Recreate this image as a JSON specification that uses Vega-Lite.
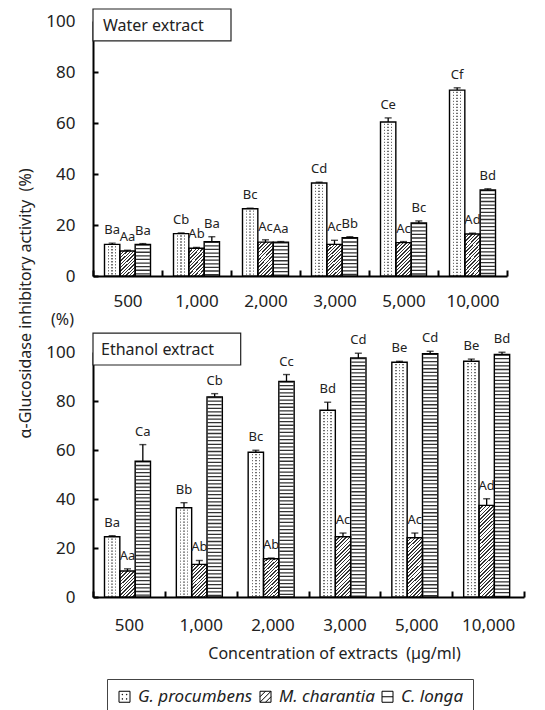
{
 "$schema": "https://vega.github.io/schema/vega-lite/v6.json",
 "padding": {"left": 17, "top": 8, "right": 5, "bottom": 5},
 "bounds": "flush",
 "spacing": 76,
 "datasets": {
  "bars": [
   {"panel":"Water extract","conc":"500","sp":"G. procumbens","v":12.4,"e":12.9,"lab":"Ba"},
   {"panel":"Water extract","conc":"500","sp":"M. charantia","v":9.8,"e":10.1,"lab":"Aa"},
   {"panel":"Water extract","conc":"500","sp":"C. longa","v":12.4,"e":12.7,"lab":"Ba"},
   {"panel":"Water extract","conc":"1,000","sp":"G. procumbens","v":16.6,"e":16.9,"lab":"Cb"},
   {"panel":"Water extract","conc":"1,000","sp":"M. charantia","v":10.9,"e":11.2,"lab":"Ab"},
   {"panel":"Water extract","conc":"1,000","sp":"C. longa","v":13.5,"e":15.4,"lab":"Ba"},
   {"panel":"Water extract","conc":"2,000","sp":"G. procumbens","v":26.4,"e":26.6,"lab":"Bc"},
   {"panel":"Water extract","conc":"2,000","sp":"M. charantia","v":13.3,"e":14.2,"lab":"Ac"},
   {"panel":"Water extract","conc":"2,000","sp":"C. longa","v":13.3,"e":13.5,"lab":"Aa"},
   {"panel":"Water extract","conc":"3,000","sp":"G. procumbens","v":36.5,"e":36.8,"lab":"Cd"},
   {"panel":"Water extract","conc":"3,000","sp":"M. charantia","v":12.4,"e":14.0,"lab":"Ac"},
   {"panel":"Water extract","conc":"3,000","sp":"C. longa","v":15.0,"e":15.4,"lab":"Bb"},
   {"panel":"Water extract","conc":"5,000","sp":"G. procumbens","v":60.4,"e":62.0,"lab":"Ce"},
   {"panel":"Water extract","conc":"5,000","sp":"M. charantia","v":13.1,"e":13.5,"lab":"Ac"},
   {"panel":"Water extract","conc":"5,000","sp":"C. longa","v":20.8,"e":21.6,"lab":"Bc"},
   {"panel":"Water extract","conc":"10,000","sp":"G. procumbens","v":72.9,"e":73.8,"lab":"Cf"},
   {"panel":"Water extract","conc":"10,000","sp":"M. charantia","v":16.5,"e":16.8,"lab":"Ad"},
   {"panel":"Water extract","conc":"10,000","sp":"C. longa","v":33.7,"e":34.2,"lab":"Bd"},
   {"panel":"Ethanol extract","conc":"500","sp":"G. procumbens","v":24.6,"e":25.0,"lab":"Ba"},
   {"panel":"Ethanol extract","conc":"500","sp":"M. charantia","v":10.6,"e":11.5,"lab":"Aa"},
   {"panel":"Ethanol extract","conc":"500","sp":"C. longa","v":55.4,"e":62.2,"lab":"Ca"},
   {"panel":"Ethanol extract","conc":"1,000","sp":"G. procumbens","v":36.4,"e":38.5,"lab":"Bb"},
   {"panel":"Ethanol extract","conc":"1,000","sp":"M. charantia","v":13.3,"e":14.9,"lab":"Ab"},
   {"panel":"Ethanol extract","conc":"1,000","sp":"C. longa","v":81.7,"e":83.0,"lab":"Cb"},
   {"panel":"Ethanol extract","conc":"2,000","sp":"G. procumbens","v":59.1,"e":59.9,"lab":"Bc"},
   {"panel":"Ethanol extract","conc":"2,000","sp":"M. charantia","v":15.6,"e":15.9,"lab":"Ab"},
   {"panel":"Ethanol extract","conc":"2,000","sp":"C. longa","v":88.0,"e":90.8,"lab":"Cc"},
   {"panel":"Ethanol extract","conc":"3,000","sp":"G. procumbens","v":76.2,"e":79.5,"lab":"Bd"},
   {"panel":"Ethanol extract","conc":"3,000","sp":"M. charantia","v":24.6,"e":26.1,"lab":"Ac"},
   {"panel":"Ethanol extract","conc":"3,000","sp":"C. longa","v":97.6,"e":99.5,"lab":"Cd"},
   {"panel":"Ethanol extract","conc":"5,000","sp":"G. procumbens","v":95.8,"e":96.2,"lab":"Be"},
   {"panel":"Ethanol extract","conc":"5,000","sp":"M. charantia","v":24.2,"e":26.1,"lab":"Ac"},
   {"panel":"Ethanol extract","conc":"5,000","sp":"C. longa","v":99.3,"e":100.3,"lab":"Cd"},
   {"panel":"Ethanol extract","conc":"10,000","sp":"G. procumbens","v":96.2,"e":97.1,"lab":"Be"},
   {"panel":"Ethanol extract","conc":"10,000","sp":"M. charantia","v":37.4,"e":40.1,"lab":"Ad"},
   {"panel":"Ethanol extract","conc":"10,000","sp":"C. longa","v":99.0,"e":99.9,"lab":"Bd"}
  ]
 },
 "vconcat": [
  {
   "width": 414, "height": 255,
   "layer": [
    {
     "data": {"name": "bars"},
     "transform": [{"filter": "datum.panel == 'Water extract'"}],
     "encoding": {
      "x": {"field": "conc", "type": "nominal", "sort": ["500","1,000","2,000","3,000","5,000","10,000"],
            "scale": {"domain": ["500","1,000","2,000","3,000","5,000","10,000"], "paddingInner": 0, "paddingOuter": 0},
            "axis": {"title": null, "labelAngle": 0, "tickBand": "extent", "tickSize": -6, "tickWidth": 2, "tickColor": "black", "domainWidth": 2, "domainColor": "black", "labelFontSize": 17, "labelColor": "#222", "labelPadding": 23.5}},
      "xOffset": {"field": "sp", "type": "nominal", "sort": ["G. procumbens","M. charantia","C. longa"],
            "scale": {"domain": ["G. procumbens","M. charantia","C. longa"], "paddingInner": 0, "paddingOuter": 0.75}},
      "y": {"field": "v", "type": "quantitative", "scale": {"domain": [0, 100]},
            "axis": {"title": "α-Glucosidase inhibitory activity \u00a0(%)", "values": [0,20,40,60,80,100], "grid": false, "tickSize": -5, "tickWidth": 2, "tickColor": "black", "domainWidth": 2, "domainColor": "black", "labelFontSize": 17, "labelColor": "#222", "labelPadding": 23, "titleFontSize": 16, "titleFontWeight": "normal", "titleColor": "#222", "titleAngle": -90, "titleX": -68, "titleY": 282, "titleAlign": "center", "titleBaseline": "middle"}}
     },
     "layer": [
      {"mark": {"type": "bar", "strokeWidth": 0},
       "encoding": {"fill": {"condition": [
        {"test": "datum.sp == 'G. procumbens'", "value": {"gradient": "linear", "x1": 0, "y1": 0, "x2": 1, "y2": 0, "stops": [{"offset":0,"color":"white"},{"offset":0.22,"color":"white"},{"offset":0.22,"color":"#707070"},{"offset":0.32,"color":"#707070"},{"offset":0.32,"color":"white"},{"offset":0.45,"color":"white"},{"offset":0.45,"color":"#707070"},{"offset":0.55,"color":"#707070"},{"offset":0.55,"color":"white"},{"offset":0.68,"color":"white"},{"offset":0.68,"color":"#707070"},{"offset":0.78,"color":"#707070"},{"offset":0.78,"color":"white"},{"offset":1,"color":"white"}]}},
        {"test": "datum.sp == 'M. charantia' && datum.v < 11.5", "value": {"gradient": "linear", "x1": 0, "y1": 0, "x2": 0.694, "y2": 1.18, "stops": [
{"offset":0,"color":"#333"},{"offset":0.0333,"color":"#333"},{"offset":0.0333,"color":"#fff"},{"offset":0.0833,"color":"#fff"},
{"offset":0.0833,"color":"#333"},{"offset":0.1167,"color":"#333"},{"offset":0.1167,"color":"#fff"},{"offset":0.1667,"color":"#fff"},
{"offset":0.1667,"color":"#333"},{"offset":0.2,"color":"#333"},{"offset":0.2,"color":"#fff"},{"offset":0.25,"color":"#fff"},
{"offset":0.25,"color":"#333"},{"offset":0.2833,"color":"#333"},{"offset":0.2833,"color":"#fff"},{"offset":0.3333,"color":"#fff"},
{"offset":0.3333,"color":"#333"},{"offset":0.3667,"color":"#333"},{"offset":0.3667,"color":"#fff"},{"offset":0.4167,"color":"#fff"},
{"offset":0.4167,"color":"#333"},{"offset":0.45,"color":"#333"},{"offset":0.45,"color":"#fff"},{"offset":0.5,"color":"#fff"},
{"offset":0.5,"color":"#333"},{"offset":0.5333,"color":"#333"},{"offset":0.5333,"color":"#fff"},{"offset":0.5833,"color":"#fff"},
{"offset":0.5833,"color":"#333"},{"offset":0.6167,"color":"#333"},{"offset":0.6167,"color":"#fff"},{"offset":0.6667,"color":"#fff"},
{"offset":0.6667,"color":"#333"},{"offset":0.7,"color":"#333"},{"offset":0.7,"color":"#fff"},{"offset":0.75,"color":"#fff"},
{"offset":0.75,"color":"#333"},{"offset":0.7833,"color":"#333"},{"offset":0.7833,"color":"#fff"},{"offset":0.8333,"color":"#fff"},
{"offset":0.8333,"color":"#333"},{"offset":0.8667,"color":"#333"},{"offset":0.8667,"color":"#fff"},{"offset":0.9167,"color":"#fff"},
{"offset":0.9167,"color":"#333"},{"offset":0.95,"color":"#333"},{"offset":0.95,"color":"#fff"},{"offset":1,"color":"#fff"}]}},
        {"test": "datum.sp == 'M. charantia' && datum.v < 14.2", "value": {"gradient": "linear", "x1": 0, "y1": 0, "x2": 0.559, "y2": 1.205, "stops": [
{"offset":0,"color":"#333"},{"offset":0.0286,"color":"#333"},{"offset":0.0286,"color":"#fff"},{"offset":0.0714,"color":"#fff"},
{"offset":0.0714,"color":"#333"},{"offset":0.1,"color":"#333"},{"offset":0.1,"color":"#fff"},{"offset":0.1429,"color":"#fff"},
{"offset":0.1429,"color":"#333"},{"offset":0.1714,"color":"#333"},{"offset":0.1714,"color":"#fff"},{"offset":0.2143,"color":"#fff"},
{"offset":0.2143,"color":"#333"},{"offset":0.2429,"color":"#333"},{"offset":0.2429,"color":"#fff"},{"offset":0.2857,"color":"#fff"},
{"offset":0.2857,"color":"#333"},{"offset":0.3143,"color":"#333"},{"offset":0.3143,"color":"#fff"},{"offset":0.3571,"color":"#fff"},
{"offset":0.3571,"color":"#333"},{"offset":0.3857,"color":"#333"},{"offset":0.3857,"color":"#fff"},{"offset":0.4286,"color":"#fff"},
{"offset":0.4286,"color":"#333"},{"offset":0.4571,"color":"#333"},{"offset":0.4571,"color":"#fff"},{"offset":0.5,"color":"#fff"},
{"offset":0.5,"color":"#333"},{"offset":0.5286,"color":"#333"},{"offset":0.5286,"color":"#fff"},{"offset":0.5714,"color":"#fff"},
{"offset":0.5714,"color":"#333"},{"offset":0.6,"color":"#333"},{"offset":0.6,"color":"#fff"},{"offset":0.6429,"color":"#fff"},
{"offset":0.6429,"color":"#333"},{"offset":0.6714,"color":"#333"},{"offset":0.6714,"color":"#fff"},{"offset":0.7143,"color":"#fff"},
{"offset":0.7143,"color":"#333"},{"offset":0.7429,"color":"#333"},{"offset":0.7429,"color":"#fff"},{"offset":0.7857,"color":"#fff"},
{"offset":0.7857,"color":"#333"},{"offset":0.8143,"color":"#333"},{"offset":0.8143,"color":"#fff"},{"offset":0.8571,"color":"#fff"},
{"offset":0.8571,"color":"#333"},{"offset":0.8857,"color":"#333"},{"offset":0.8857,"color":"#fff"},{"offset":0.9286,"color":"#fff"},
{"offset":0.9286,"color":"#333"},{"offset":0.9571,"color":"#333"},{"offset":0.9571,"color":"#fff"},{"offset":1,"color":"#fff"}]}},
        {"test": "datum.sp == 'M. charantia'", "value": {"gradient": "linear", "x1": 0, "y1": 0, "x2": 0.461, "y2": 1.206, "stops": [
{"offset":0,"color":"#333"},{"offset":0.025,"color":"#333"},{"offset":0.025,"color":"#fff"},{"offset":0.0625,"color":"#fff"},
{"offset":0.0625,"color":"#333"},{"offset":0.0875,"color":"#333"},{"offset":0.0875,"color":"#fff"},{"offset":0.125,"color":"#fff"},
{"offset":0.125,"color":"#333"},{"offset":0.15,"color":"#333"},{"offset":0.15,"color":"#fff"},{"offset":0.1875,"color":"#fff"},
{"offset":0.1875,"color":"#333"},{"offset":0.2125,"color":"#333"},{"offset":0.2125,"color":"#fff"},{"offset":0.25,"color":"#fff"},
{"offset":0.25,"color":"#333"},{"offset":0.275,"color":"#333"},{"offset":0.275,"color":"#fff"},{"offset":0.3125,"color":"#fff"},
{"offset":0.3125,"color":"#333"},{"offset":0.3375,"color":"#333"},{"offset":0.3375,"color":"#fff"},{"offset":0.375,"color":"#fff"},
{"offset":0.375,"color":"#333"},{"offset":0.4,"color":"#333"},{"offset":0.4,"color":"#fff"},{"offset":0.4375,"color":"#fff"},
{"offset":0.4375,"color":"#333"},{"offset":0.4625,"color":"#333"},{"offset":0.4625,"color":"#fff"},{"offset":0.5,"color":"#fff"},
{"offset":0.5,"color":"#333"},{"offset":0.525,"color":"#333"},{"offset":0.525,"color":"#fff"},{"offset":0.5625,"color":"#fff"},
{"offset":0.5625,"color":"#333"},{"offset":0.5875,"color":"#333"},{"offset":0.5875,"color":"#fff"},{"offset":0.625,"color":"#fff"},
{"offset":0.625,"color":"#333"},{"offset":0.65,"color":"#333"},{"offset":0.65,"color":"#fff"},{"offset":0.6875,"color":"#fff"},
{"offset":0.6875,"color":"#333"},{"offset":0.7125,"color":"#333"},{"offset":0.7125,"color":"#fff"},{"offset":0.75,"color":"#fff"},
{"offset":0.75,"color":"#333"},{"offset":0.775,"color":"#333"},{"offset":0.775,"color":"#fff"},{"offset":0.8125,"color":"#fff"},
{"offset":0.8125,"color":"#333"},{"offset":0.8375,"color":"#333"},{"offset":0.8375,"color":"#fff"},{"offset":0.875,"color":"#fff"},
{"offset":0.875,"color":"#333"},{"offset":0.9,"color":"#333"},{"offset":0.9,"color":"#fff"},{"offset":0.9375,"color":"#fff"},
{"offset":0.9375,"color":"#333"},{"offset":0.9625,"color":"#333"},{"offset":0.9625,"color":"#fff"},{"offset":1,"color":"#fff"}]}}
       ], "value": "white"}}},
      {"transform": [{"filter": "datum.sp == 'G. procumbens'"}], "mark": {"type": "rule", "color": "white", "strokeWidth": 12, "strokeDash": [1.7, 1.3]}, "encoding": {"y2": {"datum": 0}}},
      {"transform": [{"filter": "datum.sp == 'C. longa'"}], "mark": {"type": "rule", "color": "#333", "strokeWidth": 14, "strokeDash": [1.3, 2.3]}, "encoding": {"y2": {"datum": 0}}},
      {"mark": {"type": "bar", "fill": "transparent", "stroke": "black", "strokeWidth": 1.4}},
      {"mark": {"type": "rule", "color": "black", "strokeWidth": 1.3}, "encoding": {"y2": {"field": "e"}}},
      {"mark": {"type": "tick", "color": "black", "size": 7, "thickness": 1.4}, "encoding": {"y": {"field": "e", "type": "quantitative"}}},
      {"mark": {"type": "text", "fontSize": 13, "color": "#222", "dy": -9, "baseline": "alphabetic"}, "encoding": {"y": {"field": "e", "type": "quantitative"}, "text": {"field": "lab"}}}
     ]
    },
    {
     "data": {"values": [{}]},
     "layer": [
      {"mark": {"type": "rect", "fill": "white", "stroke": "#222", "strokeWidth": 1.2},
       "encoding": {"x": {"datum": "500", "type": "nominal", "bandPosition": 0}, "x2": {"datum": "2,000", "bandPosition": 0},
                    "y": {"datum": 104.7, "type": "quantitative"}, "y2": {"datum": 92.2}}},
      {"mark": {"type": "text", "align": "left", "baseline": "middle", "dx": 10, "fontSize": 16, "color": "#222"},
       "encoding": {"x": {"datum": "500", "type": "nominal", "bandPosition": 0}, "y": {"datum": 98.2, "type": "quantitative"}, "text": {"value": "Water extract"}}}
     ]
    }
   ]
  },
  {
   "width": 431, "height": 245,
   "layer": [
    {
     "data": {"name": "bars"},
     "transform": [{"filter": "datum.panel == 'Ethanol extract'"}],
     "encoding": {
      "x": {"field": "conc", "type": "nominal", "sort": ["500","1,000","2,000","3,000","5,000","10,000"],
            "scale": {"domain": ["500","1,000","2,000","3,000","5,000","10,000"], "paddingInner": 0, "paddingOuter": 0},
            "axis": {"title": "Concentration of extracts \u00a0(µg/ml)", "labelAngle": 0, "tickBand": "extent", "tickSize": -6, "tickWidth": 2, "tickColor": "black", "domainWidth": 2, "domainColor": "black", "labelFontSize": 17, "labelColor": "#222", "labelPadding": 26.5, "titleFontSize": 16, "titleFontWeight": "normal", "titleColor": "#222", "titleX": 241, "titleY": 56, "titleAlign": "center", "titleBaseline": "middle"}},
      "xOffset": {"field": "sp", "type": "nominal", "sort": ["G. procumbens","M. charantia","C. longa"],
            "scale": {"domain": ["G. procumbens","M. charantia","C. longa"], "paddingInner": 0, "paddingOuter": 0.75}},
      "y": {"field": "v", "type": "quantitative", "scale": {"domain": [0, 100]},
            "axis": {"title": "(%)", "values": [0,20,40,60,80,100], "grid": false, "tickSize": -5, "tickWidth": 2, "tickColor": "black", "domainWidth": 2, "domainColor": "black", "labelFontSize": 17, "labelColor": "#222", "labelPadding": 23, "titleFontSize": 16, "titleFontWeight": "normal", "titleColor": "#222", "titleAngle": 0, "titleX": -31, "titleY": -33, "titleAlign": "center", "titleBaseline": "middle"}}
     },
     "layer": [
      {"mark": {"type": "bar", "strokeWidth": 0},
       "encoding": {"fill": {"condition": [
        {"test": "datum.sp == 'G. procumbens'", "value": {"gradient": "linear", "x1": 0, "y1": 0, "x2": 1, "y2": 0, "stops": [{"offset":0,"color":"white"},{"offset":0.22,"color":"white"},{"offset":0.22,"color":"#707070"},{"offset":0.32,"color":"#707070"},{"offset":0.32,"color":"white"},{"offset":0.45,"color":"white"},{"offset":0.45,"color":"#707070"},{"offset":0.55,"color":"#707070"},{"offset":0.55,"color":"white"},{"offset":0.68,"color":"white"},{"offset":0.68,"color":"#707070"},{"offset":0.78,"color":"#707070"},{"offset":0.78,"color":"white"},{"offset":1,"color":"white"}]}},
        {"test": "datum.sp == 'M. charantia' && datum.v < 11.5", "value": {"gradient": "linear", "x1": 0, "y1": 0, "x2": 0.694, "y2": 1.18, "stops": [
{"offset":0,"color":"#333"},{"offset":0.0333,"color":"#333"},{"offset":0.0333,"color":"#fff"},{"offset":0.0833,"color":"#fff"},
{"offset":0.0833,"color":"#333"},{"offset":0.1167,"color":"#333"},{"offset":0.1167,"color":"#fff"},{"offset":0.1667,"color":"#fff"},
{"offset":0.1667,"color":"#333"},{"offset":0.2,"color":"#333"},{"offset":0.2,"color":"#fff"},{"offset":0.25,"color":"#fff"},
{"offset":0.25,"color":"#333"},{"offset":0.2833,"color":"#333"},{"offset":0.2833,"color":"#fff"},{"offset":0.3333,"color":"#fff"},
{"offset":0.3333,"color":"#333"},{"offset":0.3667,"color":"#333"},{"offset":0.3667,"color":"#fff"},{"offset":0.4167,"color":"#fff"},
{"offset":0.4167,"color":"#333"},{"offset":0.45,"color":"#333"},{"offset":0.45,"color":"#fff"},{"offset":0.5,"color":"#fff"},
{"offset":0.5,"color":"#333"},{"offset":0.5333,"color":"#333"},{"offset":0.5333,"color":"#fff"},{"offset":0.5833,"color":"#fff"},
{"offset":0.5833,"color":"#333"},{"offset":0.6167,"color":"#333"},{"offset":0.6167,"color":"#fff"},{"offset":0.6667,"color":"#fff"},
{"offset":0.6667,"color":"#333"},{"offset":0.7,"color":"#333"},{"offset":0.7,"color":"#fff"},{"offset":0.75,"color":"#fff"},
{"offset":0.75,"color":"#333"},{"offset":0.7833,"color":"#333"},{"offset":0.7833,"color":"#fff"},{"offset":0.8333,"color":"#fff"},
{"offset":0.8333,"color":"#333"},{"offset":0.8667,"color":"#333"},{"offset":0.8667,"color":"#fff"},{"offset":0.9167,"color":"#fff"},
{"offset":0.9167,"color":"#333"},{"offset":0.95,"color":"#333"},{"offset":0.95,"color":"#fff"},{"offset":1,"color":"#fff"}]}},
        {"test": "datum.sp == 'M. charantia' && datum.v < 14.2", "value": {"gradient": "linear", "x1": 0, "y1": 0, "x2": 0.559, "y2": 1.205, "stops": [
{"offset":0,"color":"#333"},{"offset":0.0286,"color":"#333"},{"offset":0.0286,"color":"#fff"},{"offset":0.0714,"color":"#fff"},
{"offset":0.0714,"color":"#333"},{"offset":0.1,"color":"#333"},{"offset":0.1,"color":"#fff"},{"offset":0.1429,"color":"#fff"},
{"offset":0.1429,"color":"#333"},{"offset":0.1714,"color":"#333"},{"offset":0.1714,"color":"#fff"},{"offset":0.2143,"color":"#fff"},
{"offset":0.2143,"color":"#333"},{"offset":0.2429,"color":"#333"},{"offset":0.2429,"color":"#fff"},{"offset":0.2857,"color":"#fff"},
{"offset":0.2857,"color":"#333"},{"offset":0.3143,"color":"#333"},{"offset":0.3143,"color":"#fff"},{"offset":0.3571,"color":"#fff"},
{"offset":0.3571,"color":"#333"},{"offset":0.3857,"color":"#333"},{"offset":0.3857,"color":"#fff"},{"offset":0.4286,"color":"#fff"},
{"offset":0.4286,"color":"#333"},{"offset":0.4571,"color":"#333"},{"offset":0.4571,"color":"#fff"},{"offset":0.5,"color":"#fff"},
{"offset":0.5,"color":"#333"},{"offset":0.5286,"color":"#333"},{"offset":0.5286,"color":"#fff"},{"offset":0.5714,"color":"#fff"},
{"offset":0.5714,"color":"#333"},{"offset":0.6,"color":"#333"},{"offset":0.6,"color":"#fff"},{"offset":0.6429,"color":"#fff"},
{"offset":0.6429,"color":"#333"},{"offset":0.6714,"color":"#333"},{"offset":0.6714,"color":"#fff"},{"offset":0.7143,"color":"#fff"},
{"offset":0.7143,"color":"#333"},{"offset":0.7429,"color":"#333"},{"offset":0.7429,"color":"#fff"},{"offset":0.7857,"color":"#fff"},
{"offset":0.7857,"color":"#333"},{"offset":0.8143,"color":"#333"},{"offset":0.8143,"color":"#fff"},{"offset":0.8571,"color":"#fff"},
{"offset":0.8571,"color":"#333"},{"offset":0.8857,"color":"#333"},{"offset":0.8857,"color":"#fff"},{"offset":0.9286,"color":"#fff"},
{"offset":0.9286,"color":"#333"},{"offset":0.9571,"color":"#333"},{"offset":0.9571,"color":"#fff"},{"offset":1,"color":"#fff"}]}},
        {"test": "datum.sp == 'M. charantia' && datum.v < 20", "value": {"gradient": "linear", "x1": 0, "y1": 0, "x2": 0.461, "y2": 1.206, "stops": [
{"offset":0,"color":"#333"},{"offset":0.025,"color":"#333"},{"offset":0.025,"color":"#fff"},{"offset":0.0625,"color":"#fff"},
{"offset":0.0625,"color":"#333"},{"offset":0.0875,"color":"#333"},{"offset":0.0875,"color":"#fff"},{"offset":0.125,"color":"#fff"},
{"offset":0.125,"color":"#333"},{"offset":0.15,"color":"#333"},{"offset":0.15,"color":"#fff"},{"offset":0.1875,"color":"#fff"},
{"offset":0.1875,"color":"#333"},{"offset":0.2125,"color":"#333"},{"offset":0.2125,"color":"#fff"},{"offset":0.25,"color":"#fff"},
{"offset":0.25,"color":"#333"},{"offset":0.275,"color":"#333"},{"offset":0.275,"color":"#fff"},{"offset":0.3125,"color":"#fff"},
{"offset":0.3125,"color":"#333"},{"offset":0.3375,"color":"#333"},{"offset":0.3375,"color":"#fff"},{"offset":0.375,"color":"#fff"},
{"offset":0.375,"color":"#333"},{"offset":0.4,"color":"#333"},{"offset":0.4,"color":"#fff"},{"offset":0.4375,"color":"#fff"},
{"offset":0.4375,"color":"#333"},{"offset":0.4625,"color":"#333"},{"offset":0.4625,"color":"#fff"},{"offset":0.5,"color":"#fff"},
{"offset":0.5,"color":"#333"},{"offset":0.525,"color":"#333"},{"offset":0.525,"color":"#fff"},{"offset":0.5625,"color":"#fff"},
{"offset":0.5625,"color":"#333"},{"offset":0.5875,"color":"#333"},{"offset":0.5875,"color":"#fff"},{"offset":0.625,"color":"#fff"},
{"offset":0.625,"color":"#333"},{"offset":0.65,"color":"#333"},{"offset":0.65,"color":"#fff"},{"offset":0.6875,"color":"#fff"},
{"offset":0.6875,"color":"#333"},{"offset":0.7125,"color":"#333"},{"offset":0.7125,"color":"#fff"},{"offset":0.75,"color":"#fff"},
{"offset":0.75,"color":"#333"},{"offset":0.775,"color":"#333"},{"offset":0.775,"color":"#fff"},{"offset":0.8125,"color":"#fff"},
{"offset":0.8125,"color":"#333"},{"offset":0.8375,"color":"#333"},{"offset":0.8375,"color":"#fff"},{"offset":0.875,"color":"#fff"},
{"offset":0.875,"color":"#333"},{"offset":0.9,"color":"#333"},{"offset":0.9,"color":"#fff"},{"offset":0.9375,"color":"#fff"},
{"offset":0.9375,"color":"#333"},{"offset":0.9625,"color":"#333"},{"offset":0.9625,"color":"#fff"},{"offset":1,"color":"#fff"}]}},
        {"test": "datum.sp == 'M. charantia' && datum.v < 30", "value": {"gradient": "linear", "x1": 0, "y1": 0, "x2": 0.3, "y2": 1.178, "stops": [
{"offset":0,"color":"#333"},{"offset":0.019,"color":"#333"},{"offset":0.019,"color":"#fff"},{"offset":0.0476,"color":"#fff"},
{"offset":0.0476,"color":"#333"},{"offset":0.0667,"color":"#333"},{"offset":0.0667,"color":"#fff"},{"offset":0.0952,"color":"#fff"},
{"offset":0.0952,"color":"#333"},{"offset":0.1143,"color":"#333"},{"offset":0.1143,"color":"#fff"},{"offset":0.1429,"color":"#fff"},
{"offset":0.1429,"color":"#333"},{"offset":0.1619,"color":"#333"},{"offset":0.1619,"color":"#fff"},{"offset":0.1905,"color":"#fff"},
{"offset":0.1905,"color":"#333"},{"offset":0.2095,"color":"#333"},{"offset":0.2095,"color":"#fff"},{"offset":0.2381,"color":"#fff"},
{"offset":0.2381,"color":"#333"},{"offset":0.2571,"color":"#333"},{"offset":0.2571,"color":"#fff"},{"offset":0.2857,"color":"#fff"},
{"offset":0.2857,"color":"#333"},{"offset":0.3048,"color":"#333"},{"offset":0.3048,"color":"#fff"},{"offset":0.3333,"color":"#fff"},
{"offset":0.3333,"color":"#333"},{"offset":0.3524,"color":"#333"},{"offset":0.3524,"color":"#fff"},{"offset":0.381,"color":"#fff"},
{"offset":0.381,"color":"#333"},{"offset":0.4,"color":"#333"},{"offset":0.4,"color":"#fff"},{"offset":0.4286,"color":"#fff"},
{"offset":0.4286,"color":"#333"},{"offset":0.4476,"color":"#333"},{"offset":0.4476,"color":"#fff"},{"offset":0.4762,"color":"#fff"},
{"offset":0.4762,"color":"#333"},{"offset":0.4952,"color":"#333"},{"offset":0.4952,"color":"#fff"},{"offset":0.5238,"color":"#fff"},
{"offset":0.5238,"color":"#333"},{"offset":0.5429,"color":"#333"},{"offset":0.5429,"color":"#fff"},{"offset":0.5714,"color":"#fff"},
{"offset":0.5714,"color":"#333"},{"offset":0.5905,"color":"#333"},{"offset":0.5905,"color":"#fff"},{"offset":0.619,"color":"#fff"},
{"offset":0.619,"color":"#333"},{"offset":0.6381,"color":"#333"},{"offset":0.6381,"color":"#fff"},{"offset":0.6667,"color":"#fff"},
{"offset":0.6667,"color":"#333"},{"offset":0.6857,"color":"#333"},{"offset":0.6857,"color":"#fff"},{"offset":0.7143,"color":"#fff"},
{"offset":0.7143,"color":"#333"},{"offset":0.7333,"color":"#333"},{"offset":0.7333,"color":"#fff"},{"offset":0.7619,"color":"#fff"},
{"offset":0.7619,"color":"#333"},{"offset":0.781,"color":"#333"},{"offset":0.781,"color":"#fff"},{"offset":0.8095,"color":"#fff"},
{"offset":0.8095,"color":"#333"},{"offset":0.8286,"color":"#333"},{"offset":0.8286,"color":"#fff"},{"offset":0.8571,"color":"#fff"},
{"offset":0.8571,"color":"#333"},{"offset":0.8762,"color":"#333"},{"offset":0.8762,"color":"#fff"},{"offset":0.9048,"color":"#fff"},
{"offset":0.9048,"color":"#333"},{"offset":0.9238,"color":"#333"},{"offset":0.9238,"color":"#fff"},{"offset":0.9524,"color":"#fff"},
{"offset":0.9524,"color":"#333"},{"offset":0.9714,"color":"#333"},{"offset":0.9714,"color":"#fff"},{"offset":1,"color":"#fff"}]}},
        {"test": "datum.sp == 'M. charantia'", "value": {"gradient": "linear", "x1": 0, "y1": 0, "x2": 0.188, "y2": 1.135, "stops": [
{"offset":0,"color":"#333"},{"offset":0.0133,"color":"#333"},{"offset":0.0133,"color":"#fff"},{"offset":0.0333,"color":"#fff"},
{"offset":0.0333,"color":"#333"},{"offset":0.0467,"color":"#333"},{"offset":0.0467,"color":"#fff"},{"offset":0.0667,"color":"#fff"},
{"offset":0.0667,"color":"#333"},{"offset":0.08,"color":"#333"},{"offset":0.08,"color":"#fff"},{"offset":0.1,"color":"#fff"},
{"offset":0.1,"color":"#333"},{"offset":0.1133,"color":"#333"},{"offset":0.1133,"color":"#fff"},{"offset":0.1333,"color":"#fff"},
{"offset":0.1333,"color":"#333"},{"offset":0.1467,"color":"#333"},{"offset":0.1467,"color":"#fff"},{"offset":0.1667,"color":"#fff"},
{"offset":0.1667,"color":"#333"},{"offset":0.18,"color":"#333"},{"offset":0.18,"color":"#fff"},{"offset":0.2,"color":"#fff"},
{"offset":0.2,"color":"#333"},{"offset":0.2133,"color":"#333"},{"offset":0.2133,"color":"#fff"},{"offset":0.2333,"color":"#fff"},
{"offset":0.2333,"color":"#333"},{"offset":0.2467,"color":"#333"},{"offset":0.2467,"color":"#fff"},{"offset":0.2667,"color":"#fff"},
{"offset":0.2667,"color":"#333"},{"offset":0.28,"color":"#333"},{"offset":0.28,"color":"#fff"},{"offset":0.3,"color":"#fff"},
{"offset":0.3,"color":"#333"},{"offset":0.3133,"color":"#333"},{"offset":0.3133,"color":"#fff"},{"offset":0.3333,"color":"#fff"},
{"offset":0.3333,"color":"#333"},{"offset":0.3467,"color":"#333"},{"offset":0.3467,"color":"#fff"},{"offset":0.3667,"color":"#fff"},
{"offset":0.3667,"color":"#333"},{"offset":0.38,"color":"#333"},{"offset":0.38,"color":"#fff"},{"offset":0.4,"color":"#fff"},
{"offset":0.4,"color":"#333"},{"offset":0.4133,"color":"#333"},{"offset":0.4133,"color":"#fff"},{"offset":0.4333,"color":"#fff"},
{"offset":0.4333,"color":"#333"},{"offset":0.4467,"color":"#333"},{"offset":0.4467,"color":"#fff"},{"offset":0.4667,"color":"#fff"},
{"offset":0.4667,"color":"#333"},{"offset":0.48,"color":"#333"},{"offset":0.48,"color":"#fff"},{"offset":0.5,"color":"#fff"},
{"offset":0.5,"color":"#333"},{"offset":0.5133,"color":"#333"},{"offset":0.5133,"color":"#fff"},{"offset":0.5333,"color":"#fff"},
{"offset":0.5333,"color":"#333"},{"offset":0.5467,"color":"#333"},{"offset":0.5467,"color":"#fff"},{"offset":0.5667,"color":"#fff"},
{"offset":0.5667,"color":"#333"},{"offset":0.58,"color":"#333"},{"offset":0.58,"color":"#fff"},{"offset":0.6,"color":"#fff"},
{"offset":0.6,"color":"#333"},{"offset":0.6133,"color":"#333"},{"offset":0.6133,"color":"#fff"},{"offset":0.6333,"color":"#fff"},
{"offset":0.6333,"color":"#333"},{"offset":0.6467,"color":"#333"},{"offset":0.6467,"color":"#fff"},{"offset":0.6667,"color":"#fff"},
{"offset":0.6667,"color":"#333"},{"offset":0.68,"color":"#333"},{"offset":0.68,"color":"#fff"},{"offset":0.7,"color":"#fff"},
{"offset":0.7,"color":"#333"},{"offset":0.7133,"color":"#333"},{"offset":0.7133,"color":"#fff"},{"offset":0.7333,"color":"#fff"},
{"offset":0.7333,"color":"#333"},{"offset":0.7467,"color":"#333"},{"offset":0.7467,"color":"#fff"},{"offset":0.7667,"color":"#fff"},
{"offset":0.7667,"color":"#333"},{"offset":0.78,"color":"#333"},{"offset":0.78,"color":"#fff"},{"offset":0.8,"color":"#fff"},
{"offset":0.8,"color":"#333"},{"offset":0.8133,"color":"#333"},{"offset":0.8133,"color":"#fff"},{"offset":0.8333,"color":"#fff"},
{"offset":0.8333,"color":"#333"},{"offset":0.8467,"color":"#333"},{"offset":0.8467,"color":"#fff"},{"offset":0.8667,"color":"#fff"},
{"offset":0.8667,"color":"#333"},{"offset":0.88,"color":"#333"},{"offset":0.88,"color":"#fff"},{"offset":0.9,"color":"#fff"},
{"offset":0.9,"color":"#333"},{"offset":0.9133,"color":"#333"},{"offset":0.9133,"color":"#fff"},{"offset":0.9333,"color":"#fff"},
{"offset":0.9333,"color":"#333"},{"offset":0.9467,"color":"#333"},{"offset":0.9467,"color":"#fff"},{"offset":0.9667,"color":"#fff"},
{"offset":0.9667,"color":"#333"},{"offset":0.98,"color":"#333"},{"offset":0.98,"color":"#fff"},{"offset":1,"color":"#fff"}]}}
       ], "value": "white"}}},
      {"transform": [{"filter": "datum.sp == 'G. procumbens'"}], "mark": {"type": "rule", "color": "white", "strokeWidth": 12, "strokeDash": [1.7, 1.3]}, "encoding": {"y2": {"datum": 0}}},
      {"transform": [{"filter": "datum.sp == 'C. longa'"}], "mark": {"type": "rule", "color": "#333", "strokeWidth": 14, "strokeDash": [1.3, 2.3]}, "encoding": {"y2": {"datum": 0}}},
      {"mark": {"type": "bar", "fill": "transparent", "stroke": "black", "strokeWidth": 1.4}},
      {"mark": {"type": "point", "filled": false, "opacity": 0, "size": 4, "stroke": "black"},
       "encoding": {"shape": {"field": "sp", "type": "nominal", "scale": {"domain": ["G. procumbens","M. charantia","C. longa"],
          "range": ["M-1,-1H1V1H-1Z M-0.45,-0.45h0.1v0.1h-0.1Z M0.35,-0.45h0.1v0.1h-0.1Z M-0.45,0.35h0.1v0.1h-0.1Z M0.35,0.35h0.1v0.1h-0.1Z", "M-1,-1H1V1H-1Z M-1,0L0,-1 M-1,1L1,-1 M0,1L1,0", "M-1,-1H1V1H-1Z M-1,0H1"]},
         "legend": {"title": null, "orient": "none", "legendX": 14, "legendY": 658, "direction": "horizontal", "labelFontSize": 17, "labelFontStyle": "italic", "labelColor": "#222", "symbolSize": 121, "symbolStrokeWidth": 1, "symbolStrokeColor": "black", "symbolFillColor": "white", "symbolOpacity": 1, "strokeColor": "#444", "padding": 9, "columnPadding": 4, "labelOffset": 5}}}},
      {"mark": {"type": "rule", "color": "black", "strokeWidth": 1.3}, "encoding": {"y2": {"field": "e"}}},
      {"mark": {"type": "tick", "color": "black", "size": 7, "thickness": 1.4}, "encoding": {"y": {"field": "e", "type": "quantitative"}}},
      {"mark": {"type": "text", "fontSize": 13, "color": "#222", "dy": -9, "baseline": "alphabetic"}, "encoding": {"y": {"field": "e", "type": "quantitative"}, "text": {"field": "lab"}}}
     ]
    },
    {
     "data": {"values": [{}]},
     "layer": [
      {"mark": {"type": "rect", "fill": "white", "stroke": "#222", "strokeWidth": 1.2},
       "encoding": {"x": {"datum": "500", "type": "nominal", "bandPosition": 0}, "x2": {"datum": "2,000", "bandPosition": 0.056},
                    "y": {"datum": 107.7, "type": "quantitative"}, "y2": {"datum": 94.7}}},
      {"mark": {"type": "text", "align": "left", "baseline": "middle", "dx": 8, "fontSize": 16, "color": "#222"},
       "encoding": {"x": {"datum": "500", "type": "nominal", "bandPosition": 0}, "y": {"datum": 100.7, "type": "quantitative"}, "text": {"value": "Ethanol extract"}}}
     ]
    }
   ]
  }
 ],
 "config": {
  "view": {"stroke": null},
  "font": "Noto Sans",
  "axis": {"labelFont": "Noto Sans", "titleFont": "Noto Sans"},
  "legend": {"labelFont": "Noto Sans"},
  "text": {"font": "Noto Sans"}
 }
}
